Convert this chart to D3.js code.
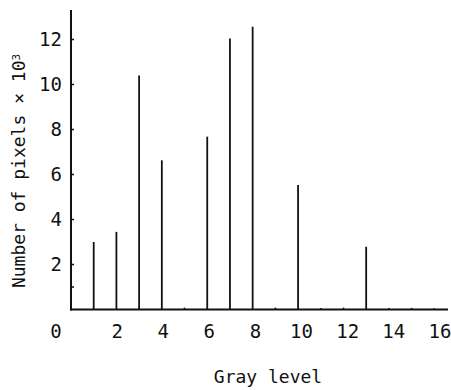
<!DOCTYPE html>
<html><head><meta charset="utf-8">
<script src="https://cdn.jsdelivr.net/npm/d3@7"></script>
<style>body{margin:0;background:#fff}svg{display:block}text{font-family:"DejaVu Sans Mono",monospace;fill:#111}</style>
</head><body>
<script>
const grayLevels = [1, 2, 3, 4, 5, 6, 7, 8, 9, 10, 11, 12, 13, 14, 15, 16];
const pixelCounts = [3.0, 3.45, 10.4, 6.63, 0.08, 7.68, 12.05, 12.57, 0.08, 5.53, 0.06, 0.08, 2.79, 0.06, 0.07, 0.05];
const xTicks = [0, 2, 4, 6, 8, 10, 12, 14, 16];
const yTicks = [2, 4, 6, 8, 10, 12];
const yMinorTicks = [1];

const W = 451, H = 390;
const svg = d3.select("body").append("svg").attr("width", W).attr("height", H);
const x = d3.scaleLinear().domain([0, 16]).range([71, 434.3]);
const y = d3.scaleLinear().domain([0, 12]).range([309.5, 39.5]);

// bars
svg.append("g").selectAll("line").data(grayLevels).join("line")
  .attr("x1", d => x(d)).attr("x2", d => x(d))
  .attr("y1", y(0)).attr("y2", (d, i) => y(pixelCounts[i]))
  .attr("stroke", "#111").attr("stroke-width", 1.8);

// axes lines
svg.append("line").attr("x1", x(0)).attr("x2", x(0)).attr("y1", 10).attr("y2", y(0) + 1)
  .attr("stroke", "#111").attr("stroke-width", 2);
svg.append("line").attr("x1", x(0) - 1).attr("x2", 448).attr("y1", y(0)).attr("y2", y(0))
  .attr("stroke", "#111").attr("stroke-width", 2);

// y ticks (inward)
svg.append("g").selectAll("line").data(yTicks.concat(yMinorTicks)).join("line")
  .attr("x1", x(0)).attr("x2", x(0) + 3)
  .attr("y1", d => y(d)).attr("y2", d => y(d))
  .attr("stroke", "#111").attr("stroke-width", 1.5);

// y tick labels
svg.append("g").selectAll("text").data(yTicks).join("text")
  .attr("x", 62).attr("y", d => y(d)).attr("dy", "0.36em")
  .attr("text-anchor", "end").style("font-size", "19px")
  .text(d => d);

// x tick labels
svg.append("g").selectAll("text").data(xTicks).join("text")
  .attr("x", d => d === 0 ? x(0) - 15 : x(d) + d * 0.35)
  .attr("y", 338).attr("text-anchor", "middle").style("font-size", "19px")
  .text(d => d);

// axis titles
svg.append("text").attr("x", 268).attr("y", 383).attr("text-anchor", "middle")
  .style("font-size", "18px").text("Gray level");
const yt = svg.append("text").attr("transform", "translate(25,171) rotate(-90)")
  .attr("text-anchor", "middle").style("font-size", "18px");
yt.append("tspan").text("Number of pixels × 10");
yt.append("tspan").attr("dy", "-0.5em").style("font-size", "11px").text("3");
</script>
</body></html>
